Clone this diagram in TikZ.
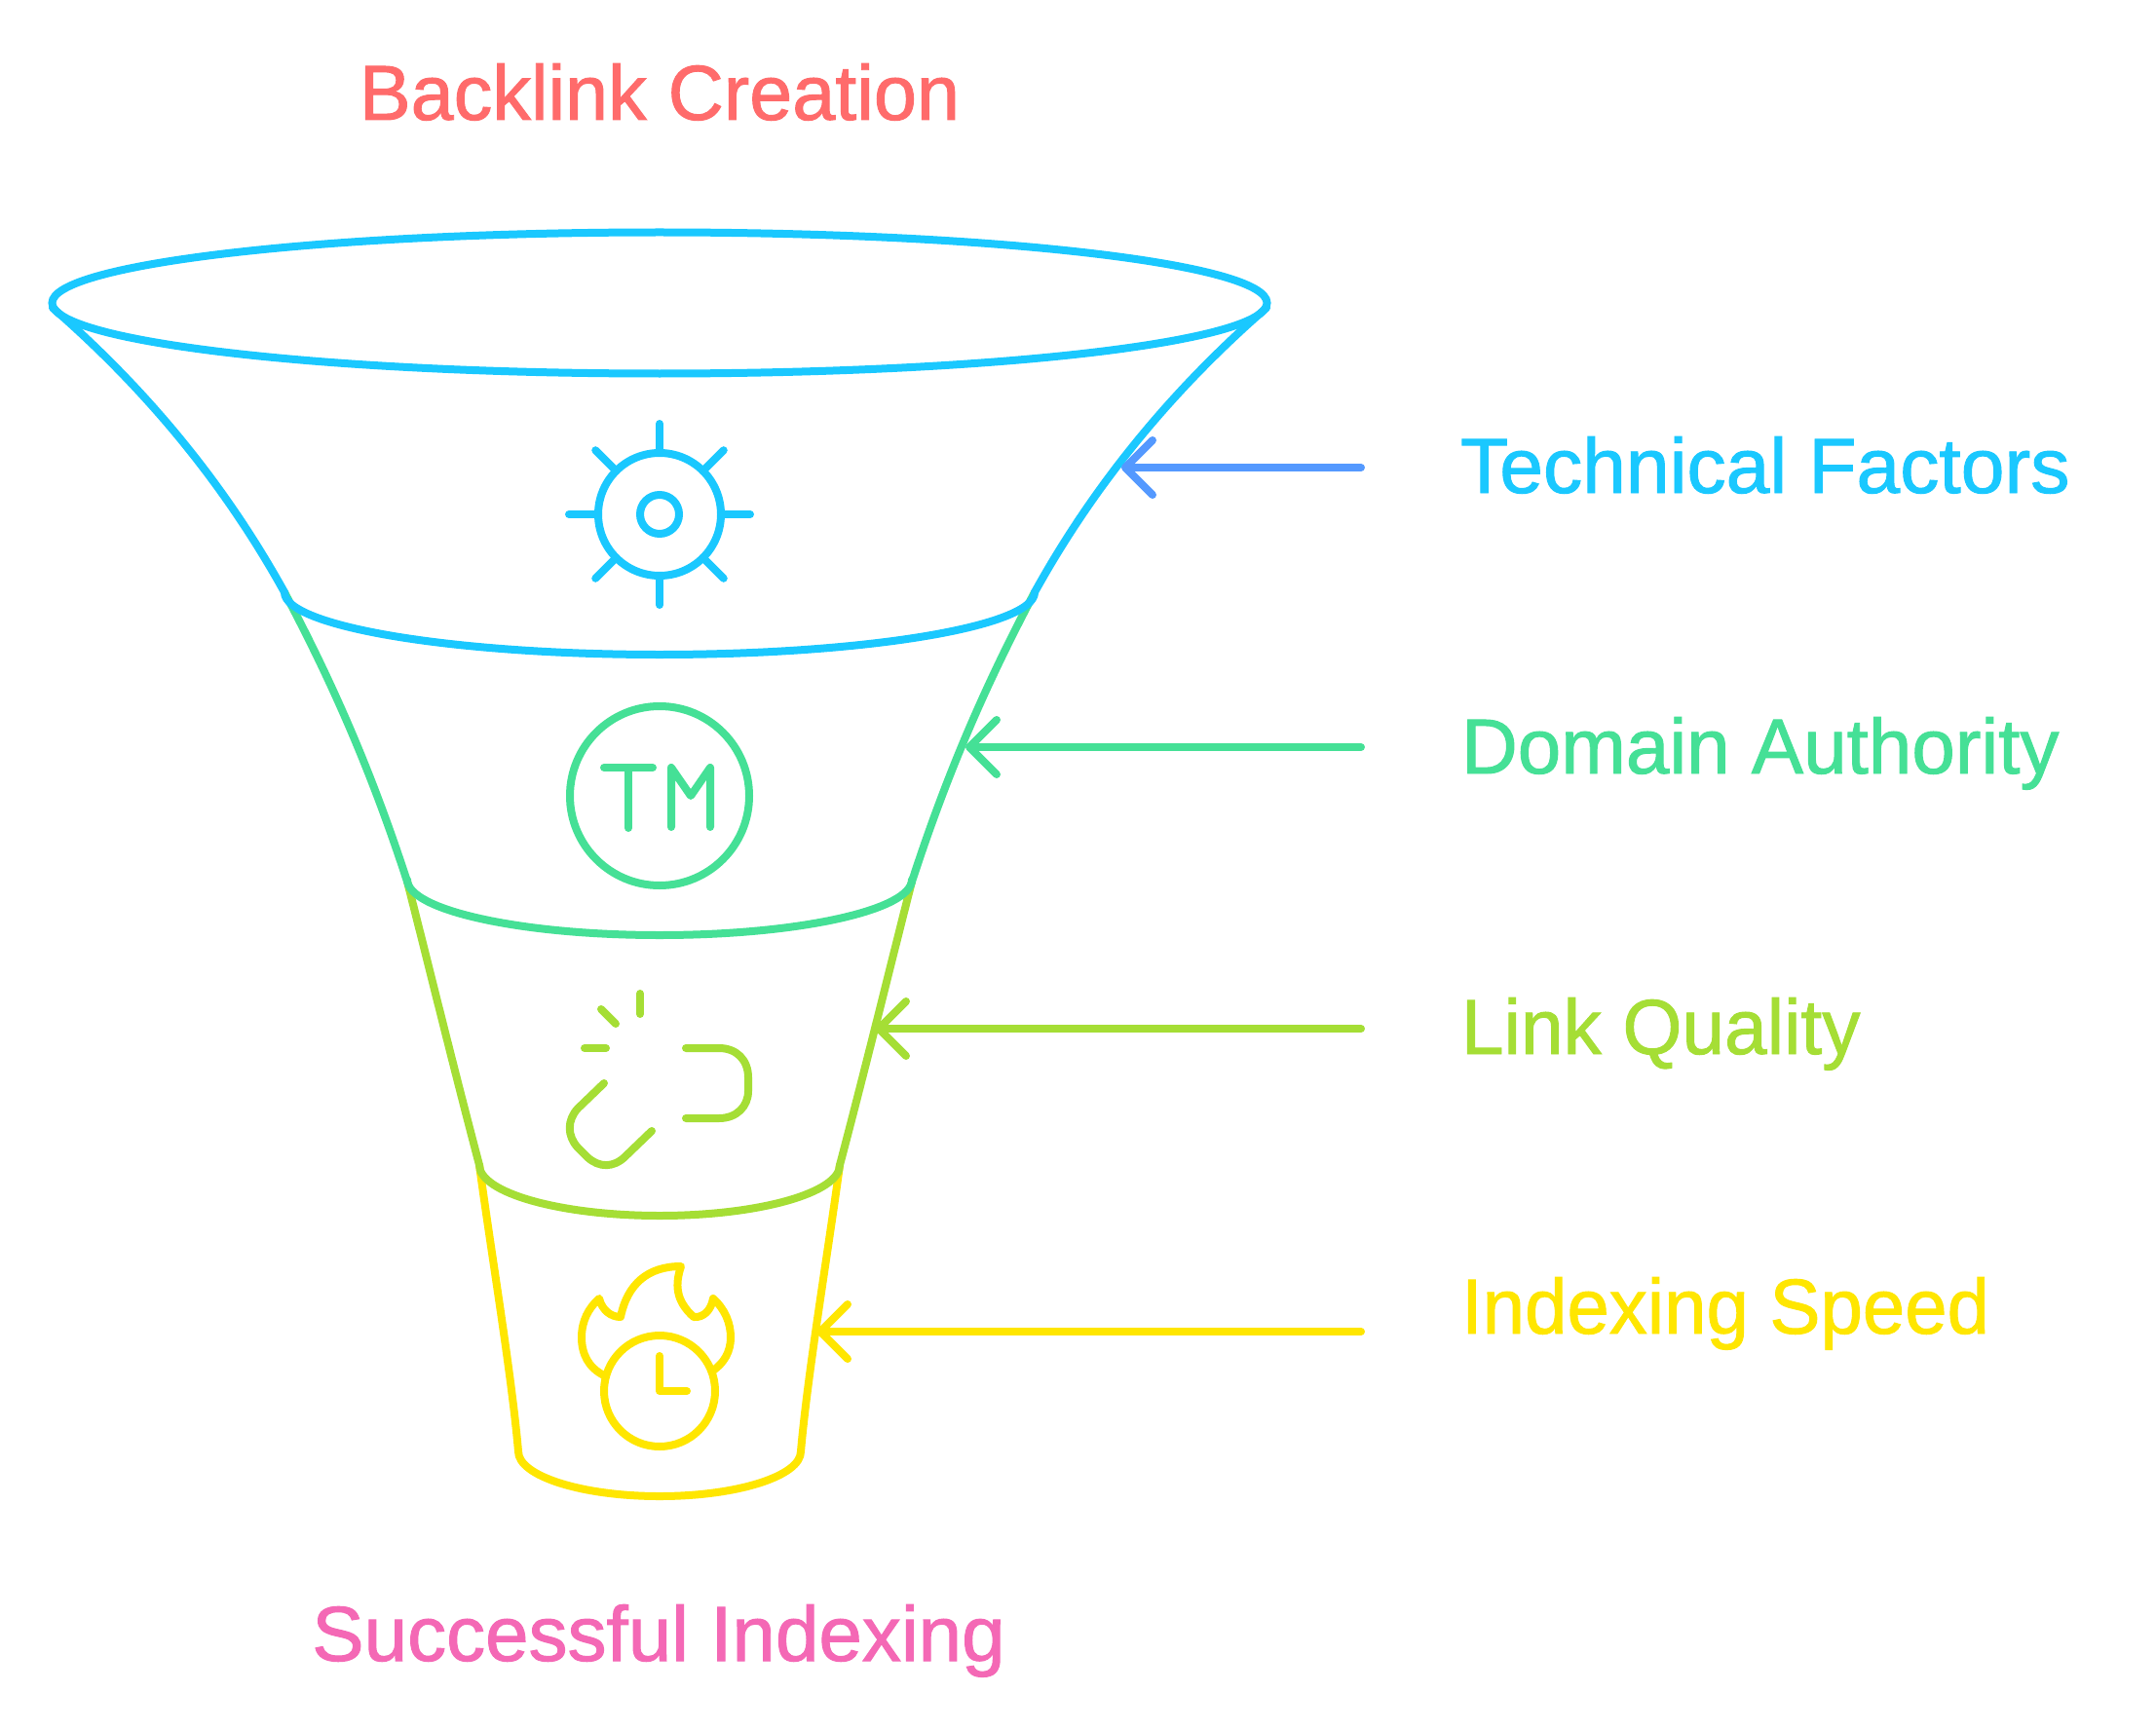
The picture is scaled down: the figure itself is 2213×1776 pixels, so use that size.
\documentclass[tikz,border=0pt]{standalone}
\usepackage{fontspec}
\setmainfont{Liberation Sans}
\newfontface\labelface{Liberation Sans}[FakeBold=1.2]
\usetikzlibrary{shapes.geometric,arrows.meta}
\definecolor{cblue}{HTML}{1AC8FF}
\definecolor{cgreen}{HTML}{45E096}
\definecolor{clime}{HTML}{A5DE35}
\definecolor{cyellow}{HTML}{FFE600}
\definecolor{cred}{HTML}{FF6B6B}
\definecolor{cpink}{HTML}{F468B5}
\definecolor{carrow}{HTML}{5499FF}
\tikzset{
  ln/.style={line width=8pt,line cap=round,line join=round},
  lbl/.style={font=\labelface\fontsize{80}{96}\selectfont,anchor=base west,inner sep=0pt,outer sep=0pt},
  ttl/.style={font=\labelface\fontsize{80}{96}\selectfont,anchor=base,inner sep=0pt,outer sep=0pt},
  pointer/.style={ln,-{Straight Barb[round,length=28pt,width=56pt,line width=8pt]}},
  ring/.style={circle,line width=8pt,inner sep=0pt}
}
% half ellipse of a funnel level: half width, y of ends, y of bottom
\newcommand{\lvlarc}[3]{(677-#1,#2) .. controls (677-#1,#2+0.55*#3-0.55*#2) and (677-0.55*#1,#3) .. (677,#3) .. controls (677+0.55*#1,#3) and (677+#1,#2+0.55*#3-0.55*#2) .. (677+#1,#2)}
\begin{document}
\begin{tikzpicture}[x=1pt,y=-1pt]
\useasboundingbox (0,0) rectangle (2213,1776);
% titles
\node[ttl,text=cred,xscale=0.99] (top) at (677,123) {Backlink Creation};
\node[ttl,text=cpink] (bottom) at (676,1705) {Successful Indexing};
% level 4
\draw[ln,cyellow] (862,1196) .. controls (850,1285) and (829,1410) .. (822,1490);
\draw[ln,cyellow] (492,1196) .. controls (504,1285) and (525,1410) .. (532,1490);
\draw[ln,cyellow] \lvlarc{145}{1490}{1536};
% level 3
\draw[ln,clime] (936,905) .. controls (918,975) and (890,1090) .. (862,1196);
\draw[ln,clime] (418,905) .. controls (436,975) and (464,1090) .. (492,1196);
\draw[ln,clime] \lvlarc{185}{1196}{1248};
% level 2
\draw[ln,cgreen] (1062,608) .. controls (1016,695) and (975,785) .. (936,905);
\draw[ln,cgreen] (292,608) .. controls (338,695) and (379,785) .. (418,905);
\draw[ln,cgreen] \lvlarc{259}{903}{960};
% level 1
\draw[ln,cblue] (1300,316) .. controls (1215,390) and (1130,485) .. (1062,608);
\draw[ln,cblue] (54,316) .. controls (139,390) and (224,485) .. (292,608);
\draw[ln,cblue] \lvlarc{385}{608}{672};
\node[ellipse,draw=cblue,line width=8pt,minimum width=1247pt,minimum height=145pt,inner sep=0pt,outer sep=0pt] (rim) at (677,311) {};
% gear icon
\begin{scope}[shift={(677,528)}]
\node[ring,draw=cblue,minimum size=126pt] (gearo) at (0,0) {};
\node[ring,draw=cblue,minimum size=40pt] (geari) at (0,0) {};
\foreach \a in {0,45,...,315}{
  \draw[ln,cblue] (\a:63) -- (\a:93);
}
\end{scope}
% TM icon
\node[ring,draw=cgreen,minimum size=184pt] (tm) at (677,817) {};
\draw[ln,cgreen] (620,788) -- (670,788) (645,788) -- (645,850);
\draw[ln,cgreen] (689,849) -- (689,788) -- (709,817) -- (729,788) -- (729,849);
% broken link icon
\draw[ln,clime] (657,1020) -- (657,1041);
\draw[ln,clime] (617,1036) -- (632,1051);
\draw[ln,clime] (600,1076) -- (622,1076);
\draw[ln,clime] (704,1076) -- (738,1076) .. controls (756,1076) and (768,1088) .. (768,1106) -- (768,1120) .. controls (768,1136) and (756,1148) .. (738,1148) -- (704,1148);
\draw[ln,clime] (620,1112) -- (593,1138) .. controls (582,1150) and (582,1166) .. (593,1178) -- (603,1188) .. controls (615,1199) and (630,1199) .. (642,1187) -- (669,1161);
% clock and flame icon
\node[ring,draw=cyellow,minimum size=114pt] (clock) at (677,1428) {};
\draw[ln,cyellow] (677,1392) -- (677,1428) -- (705,1428);
\draw[ln,cyellow] (620,1412) .. controls (604,1404) and (597,1390) .. (597,1373) .. controls (597,1356) and (604,1343) .. (615,1333) .. controls (618,1345) and (627,1352) .. (637,1352) .. controls (644,1318) and (665,1300) .. (699,1300) .. controls (693,1318) and (693,1335) .. (712,1352) .. controls (722,1353) and (730,1345) .. (732,1333) .. controls (744,1344) and (750,1358) .. (750,1373) .. controls (750,1388) and (743,1399) .. (732,1407);
% right labels
\node[lbl,text=cblue,xscale=1.005] (l1) at (1499,506) {Technical Factors};
\node[lbl,text=cgreen] (l2) at (1500,794) {Domain Authority};
\node[lbl,text=clime,xscale=0.98] (l3) at (1500,1082) {Link Quality};
\node[lbl,text=cyellow,xscale=0.975] (l4) at (1500,1369) {Indexing Speed};
% pointers
\coordinate (s1) at (1397,480); \coordinate (t1) at (1151,480);
\coordinate (s2) at (1397,767); \coordinate (t2) at (991,767);
\coordinate (s3) at (1397,1056); \coordinate (t3) at (898,1056);
\coordinate (s4) at (1397,1367); \coordinate (t4) at (838,1367);
\draw[pointer,carrow] (s1) -- (t1);
\draw[pointer,cgreen] (s2) -- (t2);
\draw[pointer,clime] (s3) -- (t3);
\draw[pointer,cyellow] (s4) -- (t4);
\end{tikzpicture}
\end{document}
